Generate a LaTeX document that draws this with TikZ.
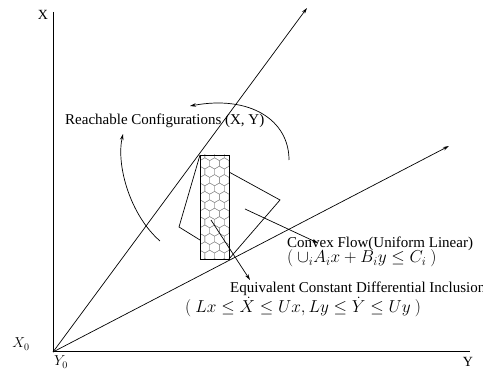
\documentclass[tikz,border=0pt]{standalone}
\usepackage{fontspec}
\setmainfont{Liberation Serif}
\usetikzlibrary{arrows.meta}
\begin{document}
\begin{tikzpicture}[x=1pt,y=-1pt,
  axisline/.style={line width=1pt},
  rayline/.style={line width=0.7pt,-{Stealth[length=6pt,width=3.5pt]}},
  plainline/.style={line width=0.7pt},
  arcline/.style={line width=0.7pt,-{Stealth[length=6pt,width=3.5pt]}},
  hexline/.style={line width=0.35pt,draw=black!45},
  lbl/.style={inner sep=0pt,anchor=base west,font=\fontsize{15}{18}\selectfont},
  mlbl/.style={inner sep=0pt,anchor=base west,font=\fontsize{16.5}{20}\selectfont},
  axlbl/.style={inner sep=0pt,anchor=base,font=\fontsize{14}{16}\selectfont}]
\useasboundingbox (0,0) rectangle (483,371);
\coordinate (O) at (53,352);
\coordinate (Xtop) at (53,12);
\coordinate (Yend) at (470,352);
\coordinate (R1) at (307,8);
\coordinate (R2) at (449,146);
\draw[axisline] (Xtop) -- (O) -- (Yend);
\draw[rayline] (O) -- (R1);
\draw[rayline] (O) -- (R2);
% honeycomb
\begin{scope}
\clip (200,155) rectangle (229,259);
\foreach \j in {0,...,14}{
  \foreach \i in {-1,...,3}{
    \pgfmathsetmacro\cx{200+\i*9.7+mod(\j,2)*4.85}
    \pgfmathsetmacro\cy{155+\j*8.4}
    \draw[hexline,shift={(\cx,\cy)}] (30:5.6) -- (90:5.6) -- (150:5.6) -- (210:5.6) -- (270:5.6) -- (330:5.6) -- cycle;
  }
}
\end{scope}
\coordinate (RTL) at (200,155);
\coordinate (RBR) at (229,259);
\draw[line width=0.9pt] (RTL) rectangle (RBR);
% polygon
\coordinate (P1) at (179,227);
\coordinate (P2) at (200,240);
\coordinate (P3) at (229,172);
\coordinate (P4) at (280,200);
\draw[plainline] (RTL) -- (P1) -- (P2);
\draw[plainline] (P3) -- (P4) -- (RBR);
% arcs
\coordinate (A1s) at (160,241);
\coordinate (A1e) at (123,134);
\draw[arcline] (A1s) .. controls (130,215) and (116,165) .. (A1e);
\coordinate (A2s) at (289,160);
\coordinate (A2e) at (190,106);
\draw[arcline] (A2s) .. controls (289,120) and (250,95) .. (A2e);
% pointer arrows
\coordinate (C1s) at (245,209);
\coordinate (C1e) at (318,243);
\draw[arcline] (C1s) -- (C1e);
\coordinate (E1s) at (211,220);
\coordinate (E1e) at (250,280);
\draw[arcline] (E1s) -- (E1e);
% texts
\node[lbl] (reach) at (65,125) {Reachable Configurations (X, Y)};
\node[lbl] (conv) at (287,248) {Convex Flow(Uniform Linear)};
\node[mlbl] (convm) at (287,263) {$(\ \cup_i A_i x + B_i y \le C_i\ )$};
\node[lbl] (equiv) at (230,293) {Equivalent Constant Differential Inclusion};
\node[mlbl] (equivm) at (185,313) {$(\ Lx \le \dot X \le Ux, Ly \le \dot Y \le Uy\ )$};
\node[axlbl] (xl) at (43,20) {X};
\node[axlbl] (yl) at (468,367) {Y};
\node[axlbl] (x0) at (21,348) {$X_0$};
\node[axlbl] (y0) at (61,366) {$Y_0$};
\end{tikzpicture}
\end{document}
